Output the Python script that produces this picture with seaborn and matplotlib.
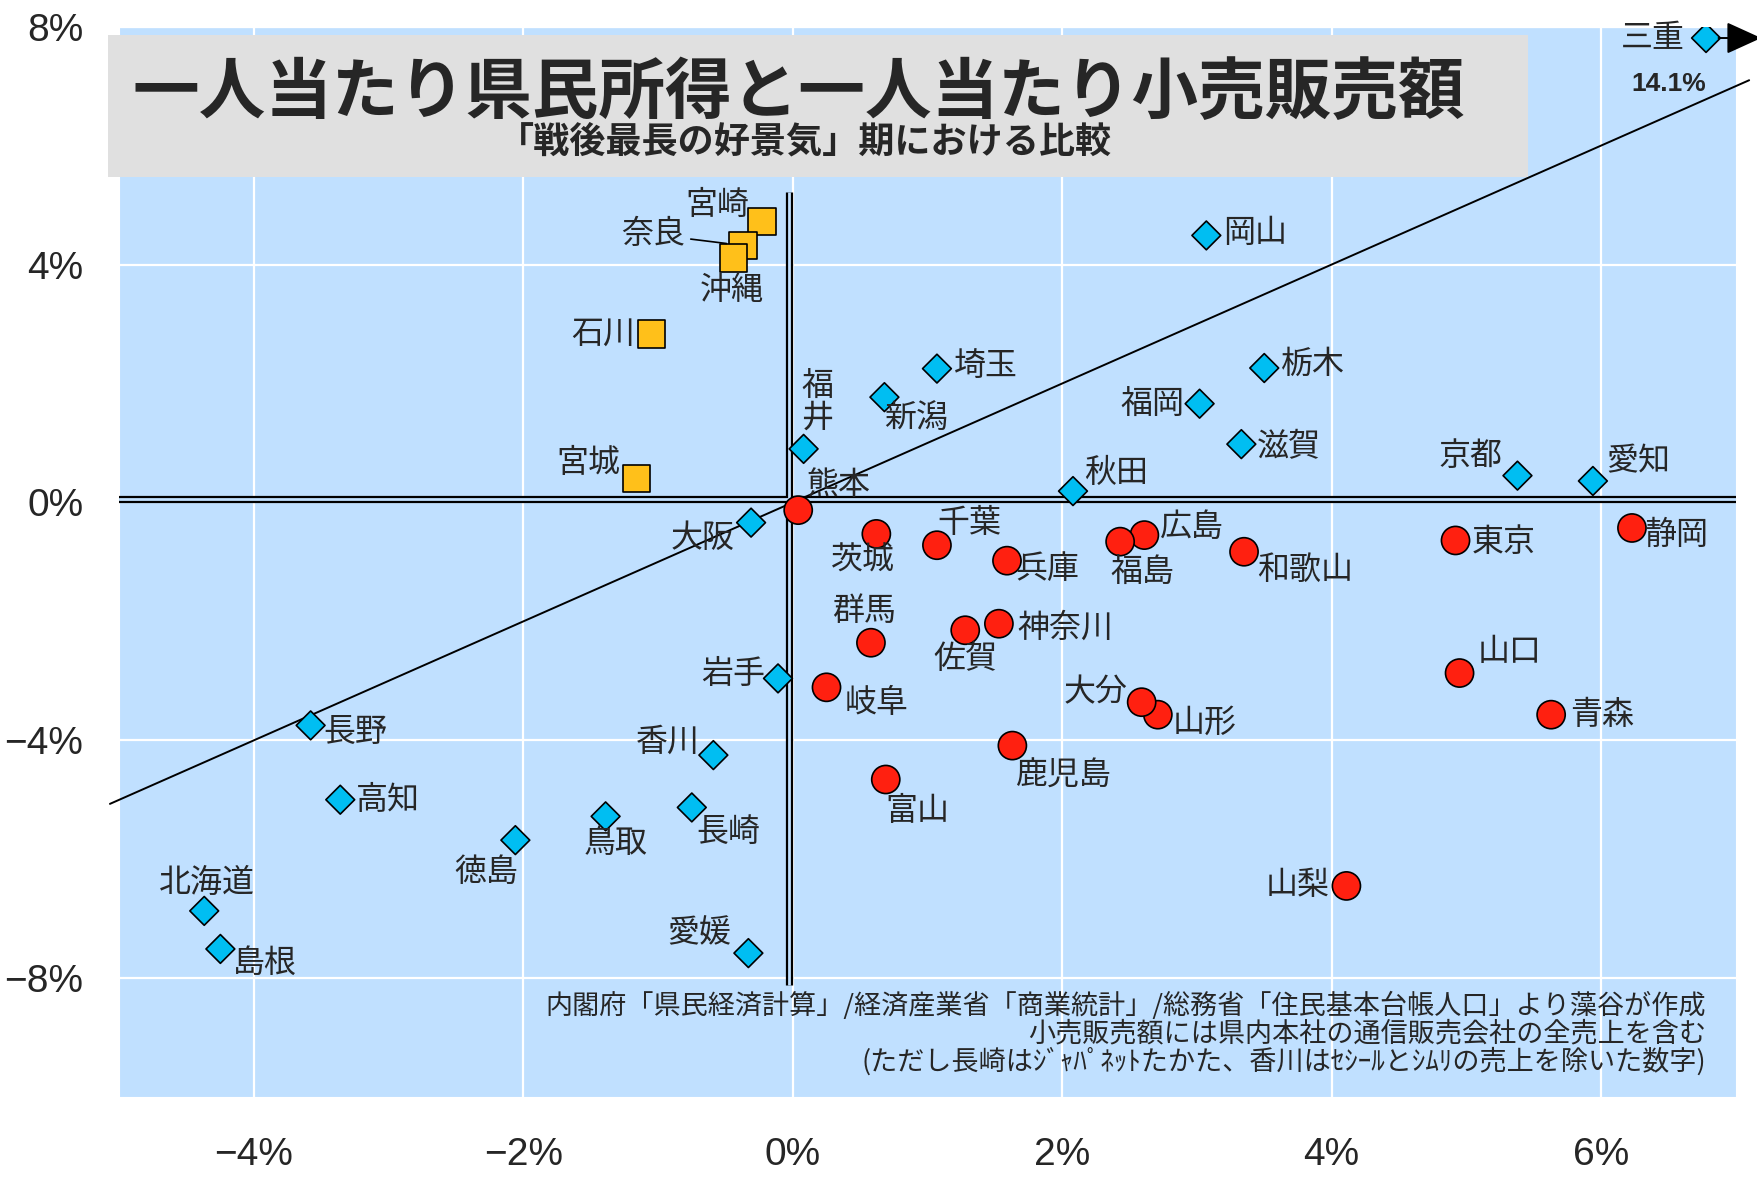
import matplotlib
matplotlib.use("Agg")
import matplotlib.pyplot as plt
from matplotlib.patches import Rectangle
import pandas as pd
import seaborn as sns

# growth of per-capita prefectural income (x, %) and per-capita retail sales (y, %)
blue_names = ["三重", "岡山", "埼玉", "栃木", "新潟", "福岡", "福井", "滋賀", "京都", "愛知", "秋田",
              "大阪", "岩手", "長野", "香川", "高知", "長崎", "鳥取", "徳島", "北海道", "島根", "愛媛"]
blue_x = [14.1, 3.07, 1.07, 3.50, 0.68, 3.02, 0.08, 3.33, 5.38, 5.94, 2.08,
          -0.31, -0.11, -3.58, -0.59, -3.36, -0.75, -1.39, -2.06, -4.37, -4.25, -0.33]
blue_y = [7.81, 4.49, 2.25, 2.26, 1.77, 1.66, 0.90, 0.98, 0.45, 0.36, 0.19,
          -0.34, -2.96, -3.75, -4.25, -5.00, -5.13, -5.28, -5.68, -6.87, -7.51, -7.58]

orange_names = ["宮崎", "奈良", "沖縄", "石川", "宮城"]
orange_x = [-0.23, -0.37, -0.44, -1.05, -1.16]
orange_y = [4.72, 4.32, 4.11, 2.83, 0.40]

red_names = ["熊本", "茨城", "千葉", "兵庫", "広島", "福島", "和歌山", "東京", "静岡", "群馬",
             "佐賀", "神奈川", "岐阜", "山口", "山形", "大分", "青森", "鹿児島", "富山", "山梨"]
red_x = [0.04, 0.62, 1.07, 1.59, 2.61, 2.43, 3.35, 4.92, 6.23, 0.58,
         1.28, 1.53, 0.25, 4.95, 2.71, 2.59, 5.63, 1.63, 0.69, 4.11]
red_y = [-0.13, -0.53, -0.72, -0.98, -0.55, -0.66, -0.83, -0.64, -0.43, -2.36,
         -2.15, -2.04, -3.11, -2.87, -3.57, -3.36, -3.57, -4.09, -4.66, -6.45]

x_ticks = [-4, -2, 0, 2, 4, 6]
x_tick_labels = ["−4%", "−2%", "0%", "2%", "4%", "6%"]
y_ticks = [-8, -4, 0, 4, 8]
y_tick_labels = ["−8%", "−4%", "0%", "4%", "8%"]

title = "一人当たり県民所得と一人当たり小売販売額"
subtitle = "「戦後最長の好景気」期における比較"
notes = [
    "内閣府「県民経済計算」/経済産業省「商業統計」/総務省「住民基本台帳人口」より藻谷が作成",
    "小売販売額には県内本社の通信販売会社の全売上を含む",
    "(ただし長崎はｼﾞｬﾊﾟﾈｯﾄたかた、香川はｾｼｰﾙとｼﾑﾘの売上を除いた数字)",
]

# label offsets from the marker, in points
label_offsets = {
    "三重": (-38, 0), "岡山": (35, 2), "埼玉": (35, 2), "栃木": (35, 3), "新潟": (23, -15),
    "福岡": (-34, 0), "福井": (10, 34), "滋賀": (34, -2), "京都": (-34, 14), "愛知": (33, 14),
    "秋田": (31, 13), "大阪": (-35, -11), "岩手": (-32, 3), "長野": (32, -5), "香川": (-33, 10),
    "高知": (34, 0), "長崎": (26, -18), "鳥取": (7, -19), "徳島": (-21, -23), "北海道": (2, 20),
    "島根": (32, -10), "愛媛": (-35, 14),
    "宮崎": (-32, 12), "奈良": (-65, 8), "沖縄": (-1, -23), "石川": (-35, 0), "宮城": (-35, 11),
    "熊本": (29, 18), "茨城": (-10, -19), "千葉": (23, 16), "兵庫": (29, -6), "広島": (34, 6),
    "福島": (16, -22), "和歌山": (44, -13), "東京": (35, -1), "静岡": (32, -5), "群馬": (-5, 23),
    "佐賀": (0, -21), "神奈川": (48, -3), "岐阜": (36, -11), "山口": (36, 15), "山形": (34, -6),
    "大分": (-33, 7), "青森": (37, 0), "鹿児島": (37, -22), "富山": (23, -23), "山梨": (-35, 1),
}

frames = [
    pd.DataFrame({"name": blue_names, "income": blue_x, "retail": blue_y, "group": "blue"}),
    pd.DataFrame({"name": orange_names, "income": orange_x, "retail": orange_y, "group": "orange"}),
    pd.DataFrame({"name": red_names, "income": red_x, "retail": red_y, "group": "red"}),
]
df = pd.concat(frames, ignore_index=True)
x_clip = 6.78  # off-scale values (三重) are drawn at the right edge with an arrow
df["plot_x"] = df["income"].clip(upper=x_clip)

bg = "#C0E0FF"
sns.set_style("darkgrid", {"axes.facecolor": bg, "grid.color": "white", "figure.facecolor": "white"})
plt.rcParams["font.family"] = ["Noto Sans CJK JP", "DejaVu Sans"]
num_font = ["Liberation Sans Narrow", "Liberation Sans", "DejaVu Sans"]

fig = plt.figure(figsize=(17.58, 11.82), dpi=100)
ax = fig.add_axes([0.0679, 0.0719, 0.9194, 0.9055])

sns.scatterplot(
    data=df, x="plot_x", y="retail", hue="group", style="group", size="group",
    palette={"blue": "#00BEF2", "orange": "#FFC01A", "red": "#FF2010"},
    markers={"blue": "D", "orange": "s", "red": "o"},
    sizes={"blue": 215, "orange": 390, "red": 410},
    edgecolor="black", linewidth=1.2, legend=False, zorder=5, ax=ax,
)

ax.set_xlim(-5, 7)
ax.set_ylim(-10, 8)
ax.set_xticks(x_ticks)
ax.set_xticklabels(x_tick_labels, family=num_font, fontsize=28)
ax.set_yticks(y_ticks)
ax.set_yticklabels(y_tick_labels, family=num_font, fontsize=28)
ax.tick_params(length=0)
ax.tick_params(axis="x", pad=29)
ax.tick_params(axis="y", pad=26)
ax.grid(color="white", lw=1.6)
ax.set_xlabel("")
ax.set_ylabel("")

# double zero lines and the diagonal y = x
ax.axhline(0.06, color="black", lw=5.2, zorder=3)
ax.axhline(0.06, color=bg, lw=2.0, zorder=3.1)
ax.plot([-0.025, -0.025], [-8.12, 5.22], color="black", lw=5.2, zorder=3, solid_capstyle="butt")
ax.plot([-0.025, -0.025], [-8.12, 5.22], color=bg, lw=2.0, zorder=3.1, solid_capstyle="butt")
ax.plot([-5.07, 7.1], [-5.07, 7.1], color="black", lw=1.4, zorder=4, clip_on=False)

for row in df.itertuples():
    dx, dy = label_offsets[row.name]
    text = "\n".join(row.name) if row.name == "福井" else row.name
    kw = {}
    if row.name == "奈良":
        kw["arrowprops"] = dict(arrowstyle="-", color="black", lw=1.2, shrinkA=2, shrinkB=12)
    ax.annotate(text, (row.plot_x, row.retail), xytext=(dx, dy), textcoords="offset points",
                ha="center", va="center", fontsize=23, linespacing=1.0, zorder=6,
                annotation_clip=False, **kw)
    if row.income > x_clip:
        ax.annotate("", xy=(7.19, row.retail), xytext=(row.plot_x, row.retail),
                    arrowprops=dict(arrowstyle="-|>,head_length=1.1,head_width=0.5",
                                    color="black", lw=1.4, mutation_scale=20, shrinkA=9, shrinkB=0),
                    annotation_clip=False, zorder=6)
        ax.annotate(f"{row.income:.1f}%", (row.plot_x, row.retail), xytext=(-27, -33),
                    textcoords="offset points", ha="center", va="center", fontsize=19,
                    fontweight="bold", family=num_font, annotation_clip=False, zorder=6)

# title box
ax.add_patch(Rectangle((108 / 1758, 1 - 177 / 1182), 1420 / 1758, 142 / 1182,
                       transform=fig.transFigure, facecolor="#E0E0E0", edgecolor="none",
                       clip_on=False, zorder=7))
fig.text(799 / 1758, 1 - 93 / 1182, title, ha="center", va="center", fontsize=48,
         fontweight="bold", zorder=8)
fig.text(805 / 1758, 1 - 142 / 1182, subtitle, ha="center", va="center", fontsize=26,
         fontweight="bold", zorder=8)

for i, line in enumerate(notes):
    fig.text(1706 / 1758, 1 - (1006 + 28 * i) / 1182, line, ha="right", va="center", fontsize=19.5)

fig.savefig("out.png", dpi=100)
